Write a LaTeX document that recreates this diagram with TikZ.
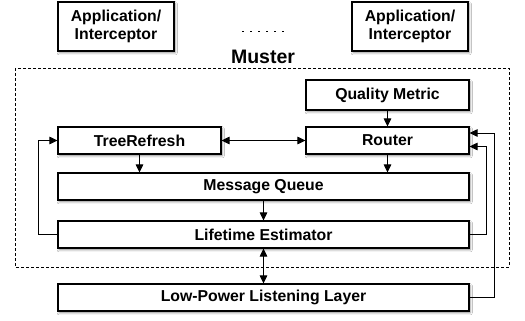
\documentclass[tikz,border=0pt]{standalone}
\usepackage{fontspec}
\setmainfont{Liberation Sans}
\usetikzlibrary{arrows.meta,shadows,shadows.blur}
\begin{document}
\begin{tikzpicture}[x=1pt,y=-1pt,
  box/.style={draw=black,line width=1.1pt,fill=white,inner sep=0pt,
    font=\fontsize{15.8}{18.5}\selectfont\bfseries,align=center,
    blur shadow={shadow xshift=1.2pt,shadow yshift=-1.8pt,shadow blur steps=4,shadow opacity=45}},
  conn/.style={line width=1pt,-{Triangle[length=8pt,width=7.5pt]}},
  conn2/.style={line width=1pt,{Triangle[length=8pt,width=7.5pt]}-{Triangle[length=8pt,width=7.5pt]}}]
\useasboundingbox (0,0) rectangle (525,321);
\fill[white] (0,0) rectangle (525,321);
% dashed frame
\draw[dashed,line width=0.7pt,dash pattern=on 3pt off 2pt] (15,68) rectangle (509,267);
\node[font=\fontsize{19.5}{22}\selectfont\bfseries] (muster) at (263,57) {Muster};
% apps
\node[box,minimum width=116pt,minimum height=49pt] (app1) at (116,26.5) {Application/\\Interceptor};
\node[box,minimum width=116pt,minimum height=49pt] (app2) at (410,26.5) {Application/\\Interceptor};
\coordinate (d1) at (242,32);
\coordinate (d2) at (286,32);
\draw[line width=1pt,dash pattern=on 2pt off 6pt] (d1) -- (d2);
% inner boxes
\node[box,minimum width=163pt,minimum height=30pt] (qm) at (387.5,95) {Quality Metric};
\node[box,minimum width=163pt,minimum height=27pt] (router) at (387.5,140.5) {Router};
\node[box,minimum width=163pt,minimum height=27pt] (tr) at (139.5,140.5) {TreeRefresh};
\node[box,minimum width=411pt,minimum height=27pt] (mq) at (263.5,186.5) {Message Queue};
\node[box,minimum width=411pt,minimum height=27pt] (le) at (263.5,234.5) {Lifetime Estimator};
\node[box,minimum width=411pt,minimum height=27pt] (lpl) at (263.5,297.5) {Low-Power Listening Layer};
% connectors
\draw[conn] (qm) -- (router);
\draw[conn2] (tr) -- (router);
\draw[conn] (tr.south) -- (tr.south |- mq.north);
\draw[conn] (router.south) -- (router.south |- mq.north);
\draw[conn] (mq) -- (le);
\draw[conn2] (le) -- (lpl);
\coordinate (lx) at (38,0);
\coordinate (rx1) at (486,0);
\coordinate (rx2) at (494,0);
\draw[conn] (le.west) -- (le.west -| lx) |- (tr.west);
\draw[conn] (le.east) -- (le.east -| rx1) |- ([yshift=-6pt]router.east);
\draw[conn] (lpl.east) -- (lpl.east -| rx2) |- ([yshift=7.5pt]router.east);
\end{tikzpicture}
\end{document}
